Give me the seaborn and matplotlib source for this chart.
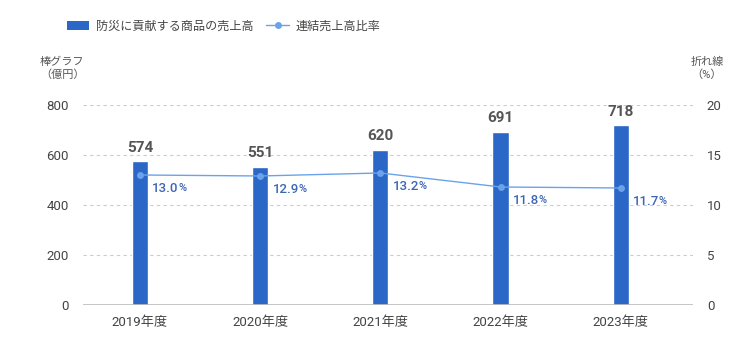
import numpy as np
import pandas as pd
import matplotlib
matplotlib.use("Agg")
import matplotlib.pyplot as plt
import seaborn as sns
from matplotlib.patches import Patch
from matplotlib.lines import Line2D

# === Data ===
years = ["2019年度", "2020年度", "2021年度", "2022年度", "2023年度"]
sales = [574, 551, 620, 691, 718]          # 億円
ratio = [13.0, 12.9, 13.2, 11.8, 11.7]     # %

BAR_COLOR = "#2b67c6"
LINE_COLOR = "#6aa3ea"
RATIO_TEXT = "#3d66b5"
GRAY = "#444444"

sns.set_theme(style="white")
plt.rcParams["font.family"] = ["Roboto", "Noto Sans CJK JP", "DejaVu Sans"]

df = pd.DataFrame({"year": years, "sales": sales, "ratio": ratio})

fig = plt.figure(figsize=(7.52, 3.6), dpi=100)
ax = fig.add_axes([0.110, 0.1528, 0.8115, 0.5556])

sns.barplot(data=df, x="year", y="sales", color=BAR_COLOR, width=0.135,
            saturation=1, ax=ax)
ax.set_ylim(0, 800)
ax.set_xlim(-0.475, 4.6)
ax.set_yticks([0, 200, 400, 600, 800])
ax.set_xlabel("")
ax.set_ylabel("")
for y in [200, 400, 600, 800]:
    ax.axhline(y, color="#cccccc", lw=0.8, ls=(0, (3, 3)), zorder=0)
ax.axhline(0, color="#bbbbbb", lw=1.2, zorder=3)
for s in ax.spines.values():
    s.set_visible(False)
ax.tick_params(axis="both", length=0, labelsize=9.5, labelcolor=GRAY)
ax.tick_params(axis="x", pad=8)
ax.tick_params(axis="y", pad=10)

for i, v in enumerate(sales):
    ax.annotate(f"{v}", (i, v), xytext=(0, 5), textcoords="offset points",
                ha="center", va="bottom", fontsize=11, fontweight="bold",
                color="#555555")

ax2 = ax.twinx()
sns.lineplot(x=np.arange(len(years)), y=ratio, color=LINE_COLOR, lw=1,
             marker="o", markersize=5, markeredgewidth=0, ax=ax2)
ax2.set_ylim(0, 20)
ax2.set_yticks([0, 5, 10, 15, 20])
for s in ax2.spines.values():
    s.set_visible(False)
ax2.tick_params(axis="y", length=0, labelsize=9.5, labelcolor=GRAY, pad=10)

fig.canvas.draw()
renderer = fig.canvas.get_renderer()
for i, v in enumerate(ratio):
    t = ax2.annotate(f"{v:.1f}", (i, v), xytext=(9, -5), textcoords="offset points",
                     ha="left", va="top", fontsize=9.5, fontweight="medium",
                     color=RATIO_TEXT)
    bb = t.get_window_extent(renderer)
    fig.text(bb.x1 / fig.bbox.width - 0.001, bb.y0 / fig.bbox.height + 0.004, "%",
             fontsize=8, fontweight="medium", color=RATIO_TEXT,
             ha="left", va="bottom")

# axis captions
fig.text(0.053, 0.81, "棒グラフ\n（億円）", fontsize=8, color="#555555",
         ha="left", va="center", linespacing=1.3)
fig.text(0.94, 0.81, "折れ線\n（%）", fontsize=8, color="#555555",
         ha="center", va="center", linespacing=1.3)

# legend
handles = [Patch(facecolor=BAR_COLOR, edgecolor="none"),
           Line2D([0], [0], color=LINE_COLOR, lw=1, marker="o", markersize=5,
                  markeredgewidth=0)]
labels = ["防災に貢献する商品の売上高", "連結売上高比率"]
fig.legend(handles, labels, loc="center left", bbox_to_anchor=(0.074, 0.928),
           ncol=2, frameon=False, fontsize=8.7, labelcolor="#444444",
           handlelength=1.9, handleheight=0.8, columnspacing=1.1,
           handletextpad=0.5)

fig.savefig("out.png", dpi=100)
